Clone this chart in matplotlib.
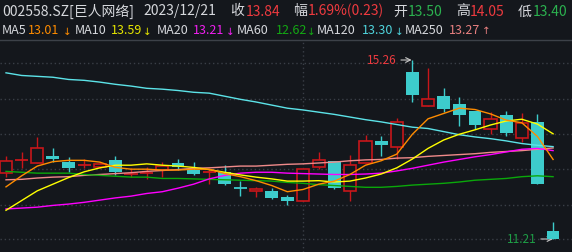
import matplotlib.pyplot as plt
import numpy as np

plt.rcParams['font.family'] = ['Noto Sans CJK SC', 'DejaVu Sans']

# ---- daily candles ----
opens = [12.70, 12.99, 12.93, 13.09, 12.95, 12.88, 12.84, 13.00, 12.68, 12.70,
         12.77, 12.93, 12.77, 12.73, 12.73, 12.37, 12.30, 12.30, 12.16, 12.07,
         12.84, 12.98, 12.30, 12.93, 13.43, 13.29, 14.99, 14.22, 14.45, 14.26,
         14.11, 13.70, 14.02, 13.50, 13.86, 11.39]
highs = [13.09, 13.18, 13.52, 13.27, 13.07, 13.02, 12.95, 13.09, 12.82, 12.84,
         12.95, 13.02, 12.95, 12.79, 12.88, 12.52, 12.39, 12.36, 12.21, 12.79,
         13.18, 12.98, 13.11, 13.56, 13.54, 13.95, 15.26, 15.08, 14.63, 14.42,
         14.11, 14.08, 14.11, 14.05, 14.04, 11.60]
lows = [12.61, 12.82, 12.92, 12.95, 12.73, 12.82, 12.82, 12.66, 12.61, 12.57,
        12.61, 12.77, 12.66, 12.45, 12.43, 12.18, 12.16, 12.12, 11.98, 12.07,
        12.79, 12.34, 12.07, 12.93, 13.09, 13.02, 14.31, 14.22, 14.08, 13.77,
        13.70, 13.59, 13.54, 13.40, 12.46, 11.21]
closes = [12.98, 13.00, 13.27, 13.02, 12.81, 12.88, 12.91, 12.73, 12.68, 12.70,
          12.86, 12.84, 12.68, 12.73, 12.45, 12.36, 12.34, 12.14, 12.07, 12.79,
          13.00, 12.36, 12.88, 13.43, 13.34, 13.86, 14.47, 14.38, 14.15, 14.02,
          13.79, 13.93, 13.61, 13.84, 12.46, 11.21]

# ---- moving averages ----
ma5 = [12.39, 12.64, 12.86, 12.96, 12.99, 12.99, 12.95, 12.83, 12.79, 12.79,
       12.77, 12.77, 12.79, 12.79, 12.69, 12.62, 12.53, 12.42, 12.28, 12.33,
       12.45, 12.52, 12.67, 12.88, 12.98, 13.13, 13.58, 13.93, 14.05, 14.17,
       14.14, 14.04, 13.90, 13.84, 13.53, 13.01]
ma10 = [11.86, 12.08, 12.30, 12.45, 12.60, 12.73, 12.82, 12.88, 12.88, 12.91,
        12.88, 12.86, 12.83, 12.78, 12.72, 12.66, 12.61, 12.57, 12.52, 12.52,
        12.53, 12.50, 12.52, 12.59, 12.68, 12.82, 13.02, 13.26, 13.45, 13.58,
        13.68, 13.79, 13.88, 13.92, 13.81, 13.59]
ma20 = [11.89, 11.91, 11.93, 11.97, 12.00, 12.04, 12.09, 12.14, 12.18, 12.24,
        12.28, 12.36, 12.45, 12.57, 12.65, 12.70, 12.72, 12.72, 12.70, 12.69,
        12.68, 12.67, 12.67, 12.68, 12.70, 12.75, 12.81, 12.88, 12.95, 13.01,
        13.07, 13.12, 13.18, 13.24, 13.26, 13.21]
ma60 = [12.74, 12.72, 12.70, 12.70, 12.70, 12.67, 12.65, 12.63, 12.61, 12.61,
        12.58, 12.58, 12.57, 12.56, 12.55, 12.54, 12.53, 12.52, 12.49, 12.47,
        12.44, 12.42, 12.40, 12.38, 12.38, 12.40, 12.43, 12.45, 12.47, 12.50,
        12.54, 12.56, 12.58, 12.62, 12.64, 12.62]
ma120 = [14.97, 14.91, 14.89, 14.87, 14.82, 14.80, 14.76, 14.71, 14.67, 14.62,
         14.60, 14.57, 14.53, 14.51, 14.44, 14.37, 14.31, 14.24, 14.17, 14.13,
         14.08, 14.03, 13.97, 13.91, 13.86, 13.80, 13.74, 13.71, 13.64, 13.57,
         13.52, 13.48, 13.43, 13.37, 13.33, 13.30]
ma250 = [12.55, 12.56, 12.59, 12.61, 12.62, 12.65, 12.67, 12.69, 12.71, 12.74,
         12.76, 12.78, 12.81, 12.82, 12.84, 12.86, 12.86, 12.88, 12.90, 12.91,
         12.93, 12.95, 12.98, 13.00, 13.01, 13.04, 13.05, 13.08, 13.10, 13.12,
         13.14, 13.17, 13.19, 13.21, 13.24, 13.27]

# ---- header text ----
title = '002558.SZ[巨人网络]'
date_label = '2023/12/21'
quote_labels = ['收', '幅', '开', '高', '低']
quote_values = ['13.84', '1.69%(0.23)', '13.50', '14.05', '13.40']
ma_names = ['MA5', 'MA10', 'MA20', 'MA60', 'MA120', 'MA250']
ma_values = ['13.01', '13.59', '13.21', '12.62', '13.30', '13.27']
ma_arrows = ['↓', '↓', '↓', '↓', '↓', '↑']
grid_levels = [15.19, 14.38, 13.59, 12.79, 11.98, 11.21]

# ---- styling ----
bg = '#14171c'
white = '#d6d8dc'
red_txt = '#ee3a3f'
green_txt = '#2bb14f'
up_col = '#c8161a'
down_col = '#3dcccc'
ma_colors = ['#ff8c00', '#ffff00', '#ff00ff', '#0aa80a', '#5ce3e8', '#f08a8a']
ma_txt_colors = ['#ff8c00', '#e6e600', '#f020f0', '#13a813', '#4fd4dc', '#e88080']

W, H = 572, 252
fig = plt.figure(figsize=(W / 100, H / 100), dpi=100, facecolor=bg)
ax = fig.add_axes([0, 0, 1, 211 / H])
ax.set_facecolor(bg)
ax.set_xlim(-0.384, 36.21)
ax.set_ylim(10.916, 15.69)
ax.axis('off')

x = np.arange(len(closes))

# grid
for g in grid_levels:
    ax.axhline(g, color='#3a3f47', lw=1, ls=(0, (1, 2)), zorder=1)
ax.axvline(19, color='#3a3f47', lw=1, ls=(0, (1, 2)), zorder=1)

# candles
for i in x:
    o, h, l, c = opens[i], highs[i], lows[i], closes[i]
    up = c >= o
    col = up_col if up else down_col
    ax.vlines(i, l, h, color=col, lw=1, zorder=2)
    if abs(c - o) < 0.015:
        ax.hlines(o, i - 0.42, i + 0.42, color=col, lw=1.3, zorder=3)
    elif up:
        ax.bar(i, c - o, bottom=o, width=0.78, facecolor=bg, edgecolor=col,
               lw=1.2, zorder=3)
    else:
        ax.bar(i, o - c, bottom=c, width=0.82, facecolor=col, edgecolor=col,
               lw=0, zorder=3)

# moving averages
for ma, col in zip([ma250, ma120, ma60, ma20, ma10, ma5], ma_colors[::-1]):
    ax.plot(x, ma, color=col, lw=1.0, zorder=4)

# high / low markers
hi = int(np.argmax(highs))
lo = int(np.argmin(lows))
ax.annotate(f'{highs[hi]:.2f}', xy=(hi - 0.05, highs[hi]), xytext=(hi - 1.0, highs[hi]),
            ha='right', va='center', color=red_txt, fontsize=8.5,
            arrowprops=dict(arrowstyle='->', color='#c8c8c8', lw=0.8,
                            shrinkA=1, shrinkB=0), zorder=2)
ax.annotate(f'{lows[lo]:.2f}', xy=(lo, lows[lo]), xytext=(lo - 1.05, lows[lo]),
            ha='right', va='center', color='#1e9e46', fontsize=8.5,
            arrowprops=dict(arrowstyle='->', color='#c8c8c8', lw=0.8,
                            shrinkA=1, shrinkB=0), zorder=2)

# header
def put(px, base, s, col, size, **kw):
    fig.text(px / W, 1 - base / H, s, color=col, fontsize=size,
             ha='left', va='baseline', **kw)

put(2, 15.5, title, white, 10)
put(143, 15.5, date_label, white, 10)
lab_x = [230, 293, 393, 456, 518]
val_x = [246, 308, 408, 470, 533]
val_cols = [red_txt, red_txt, green_txt, red_txt, green_txt]
for s, px in zip(quote_labels, lab_x):
    put(px, 15.5, s, white, 10)
for s, px, col in zip(quote_values, val_x, val_cols):
    put(px, 15.5, s, col, 10)

name_x = [2, 75, 157, 237, 317, 405]
mval_x = [28, 111, 193, 276, 362, 449]
arr_x = [67, 147, 230, 311, 399, 486]
for n, v, a, nx, vx, axx, col in zip(ma_names, ma_values, ma_arrows,
                                     name_x, mval_x, arr_x, ma_txt_colors):
    put(nx, 34.5, n, white, 9.0)
    put(vx, 34.5, v, col, 9.0)
    fig.text(axx / W, 1 - 34.5 / H, a, color=col, fontsize=7.5, ha='center',
             va='baseline', family='DejaVu Sans')

fig.add_artist(plt.Line2D([0, 1], [1 - 40 / H, 1 - 40 / H], color='#3c4148', lw=1))

fig.savefig('out.png', dpi=100, facecolor=bg)
